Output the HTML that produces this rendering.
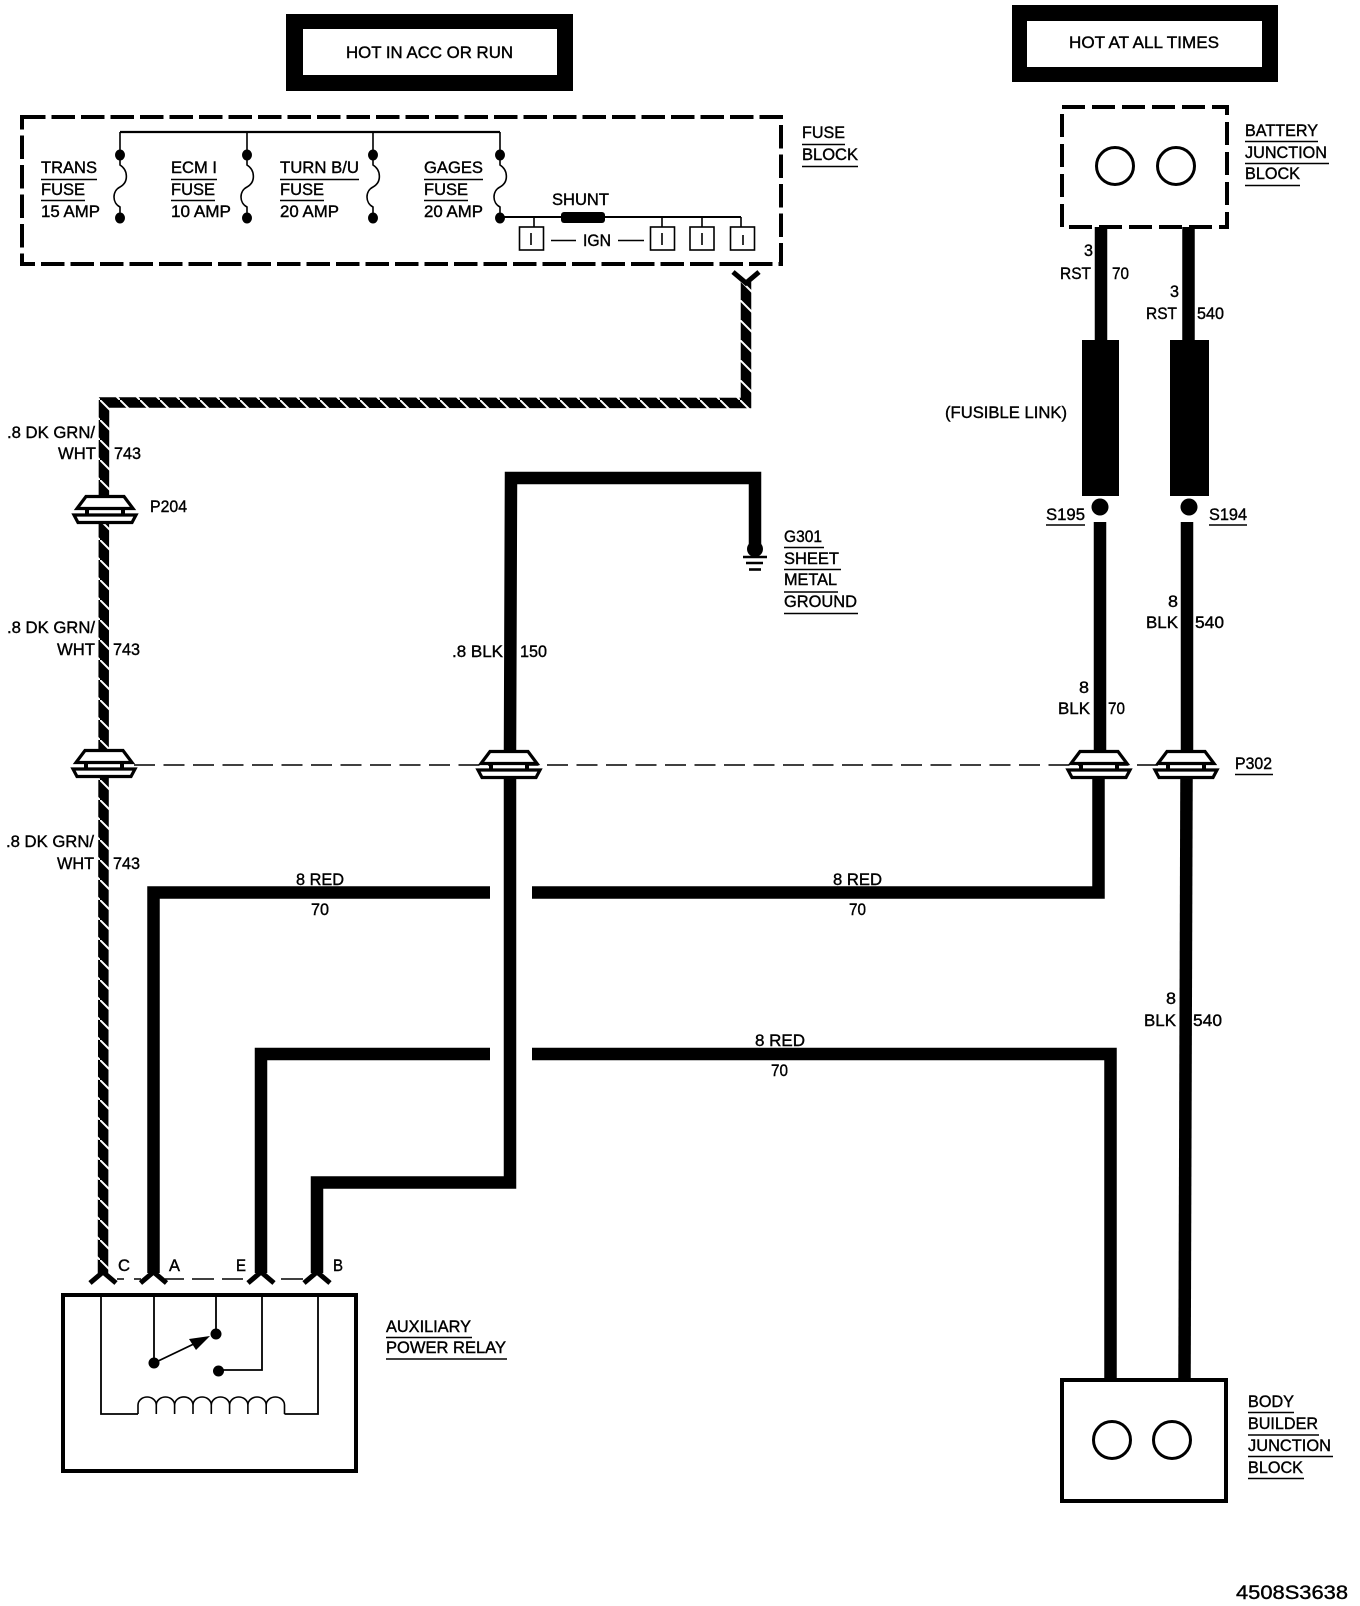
<!DOCTYPE html>
<html><head><meta charset="utf-8"><title>Auxiliary Power Relay Wiring</title>
<style>
html,body{margin:0;padding:0;background:#fff}
svg{display:block}
text{font-family:"Liberation Sans",sans-serif;font-size:17px;fill:#000;stroke:#000;stroke-width:.4}
.u{stroke:#000;stroke-width:1.5;fill:none}
.w{stroke:#000;stroke-width:12.5;fill:none;stroke-linejoin:miter}
</style></head><body>
<svg xmlns="http://www.w3.org/2000/svg" width="1360" height="1606" viewBox="0 0 1360 1606">
<defs>
<pattern id="h" patternUnits="userSpaceOnUse" width="20" height="20"><rect width="20" height="20" fill="#000"/><path d="M-2,-2L22,22" stroke="#fff" stroke-width="2"/></pattern>
<g id="c"><rect x="-16" y="12" width="32" height="8" fill="#fff"/><polygon points="-19,1.5 19,1.5 28,13.5 -28,13.5" fill="#fff" stroke="#000" stroke-width="3.2"/><path d="M-18,14V19M18,14V19" stroke="#000" stroke-width="4"/><polygon points="-31,20 31,20 27,27.5 -27,27.5" fill="#fff" stroke="#000" stroke-width="3.2"/></g>
<path id="f" d="M-13,11L0,0L13,11" fill="none" stroke="#000" stroke-width="5"/>
<path id="z" d="M0,155V165C8,170,9,182,0,187C-8,191,-8,203,0,207V218" fill="none" stroke="#000" stroke-width="1.6"/>
</defs>
<rect width="1360" height="1606" fill="#fff"/>

<!-- header boxes -->
<rect x="286" y="14" width="287" height="77" fill="#000"/><rect x="303" y="29" width="254" height="46" fill="#fff"/>
<text x="346" y="58" textLength="167" lengthAdjust="spacingAndGlyphs">HOT IN ACC OR RUN</text>
<rect x="1012" y="5" width="266" height="77" fill="#000"/><rect x="1027" y="21" width="235" height="46" fill="#fff"/>
<text x="1069" y="48" textLength="150" lengthAdjust="spacingAndGlyphs">HOT AT ALL TIMES</text>

<!-- fuse block -->
<rect x="22" y="117" width="759" height="147" fill="none" stroke="#000" stroke-width="4" stroke-dasharray="23.5 6"/>
<path d="M120,132H500" stroke="#000" stroke-width="2.2" fill="none"/>
<path d="M120,132V155M247,132V155M373,132V155M500,132V155" stroke="#000" stroke-width="1.6"/>
<use href="#z" x="120"/><use href="#z" x="247"/><use href="#z" x="373"/><use href="#z" x="500"/>
<g fill="#000"><ellipse cx="120" cy="155" rx="5" ry="5.5"/><ellipse cx="120" cy="218" rx="5" ry="5.5"/><ellipse cx="247" cy="155" rx="5" ry="5.5"/><ellipse cx="247" cy="218" rx="5" ry="5.5"/><ellipse cx="373" cy="155" rx="5" ry="5.5"/><ellipse cx="373" cy="218" rx="5" ry="5.5"/><ellipse cx="500" cy="155" rx="5" ry="5.5"/><ellipse cx="500" cy="218" rx="5" ry="5.5"/></g>

<text x="41" y="173" textLength="56" lengthAdjust="spacingAndGlyphs">TRANS</text><text x="41" y="195" textLength="44" lengthAdjust="spacingAndGlyphs">FUSE</text><text x="41" y="217" textLength="59" lengthAdjust="spacingAndGlyphs">15 AMP</text>
<text x="171" y="173" textLength="46" lengthAdjust="spacingAndGlyphs">ECM I</text><text x="171" y="195" textLength="44" lengthAdjust="spacingAndGlyphs">FUSE</text><text x="171" y="217" textLength="60" lengthAdjust="spacingAndGlyphs">10 AMP</text>
<text x="280" y="173" textLength="79" lengthAdjust="spacingAndGlyphs">TURN B/U</text><text x="280" y="195" textLength="44" lengthAdjust="spacingAndGlyphs">FUSE</text><text x="280" y="217" textLength="59" lengthAdjust="spacingAndGlyphs">20 AMP</text>
<text x="424" y="173" textLength="59" lengthAdjust="spacingAndGlyphs">GAGES</text><text x="424" y="195" textLength="44" lengthAdjust="spacingAndGlyphs">FUSE</text><text x="424" y="217" textLength="59" lengthAdjust="spacingAndGlyphs">20 AMP</text>
<path class="u" d="M41,179.5H97M41,200.5H85M171,179.5H217M171,200.5H215M280,179.5H359M280,200.5H324M424,179.5H483M424,200.5H468"/>

<text x="552" y="205" textLength="57" lengthAdjust="spacingAndGlyphs">SHUNT</text>
<path d="M500,217H741" stroke="#000" stroke-width="2" fill="none"/>
<rect x="561" y="212" width="44" height="11" rx="3" fill="#000"/>
<path d="M534,217V227M662,217V227M702,217V227M741,217V227" stroke="#000" stroke-width="1.6"/>
<g fill="#fff" stroke="#000" stroke-width="1.6"><rect x="519.5" y="227" width="24" height="23"/><rect x="650.5" y="227" width="24" height="23"/><rect x="690" y="227" width="24" height="23"/><rect x="730.5" y="227" width="24" height="23"/></g>
<path d="M531,233V245M662,233V245M702,233V245M743,235V245" stroke="#000" stroke-width="1.6"/>
<text x="583" y="246" textLength="28" lengthAdjust="spacingAndGlyphs">IGN</text>
<path d="M551,240.5H576M618,240.5H644" stroke="#000" stroke-width="1.6"/>
<text x="802" y="138" textLength="43" lengthAdjust="spacingAndGlyphs">FUSE</text><text x="802" y="160" textLength="56" lengthAdjust="spacingAndGlyphs">BLOCK</text>
<path class="u" d="M802,144.5H845M802,166.5H858"/>

<!-- battery junction block -->
<rect x="1062" y="107" width="165" height="120" fill="none" stroke="#000" stroke-width="4" stroke-dasharray="23 7"/>
<circle cx="1115" cy="166" r="18.5" fill="none" stroke="#000" stroke-width="3"/><circle cx="1176" cy="166" r="18.5" fill="none" stroke="#000" stroke-width="3"/>
<text x="1245" y="136" textLength="73" lengthAdjust="spacingAndGlyphs">BATTERY</text><text x="1245" y="158" textLength="82" lengthAdjust="spacingAndGlyphs">JUNCTION</text><text x="1245" y="179" textLength="55" lengthAdjust="spacingAndGlyphs">BLOCK</text>
<path class="u" d="M1245,141.5H1318M1245,163.5H1329M1245,185.5H1300"/>

<!-- fusible links -->
<path class="w" d="M1101,227V341M1188.5,227V341"/>
<rect x="1082" y="340" width="37" height="156" fill="#000"/><rect x="1170" y="340" width="39" height="156" fill="#000"/>
<circle cx="1100" cy="507" r="8.5" fill="#000"/><circle cx="1189" cy="507" r="8.5" fill="#000"/>
<text x="1084" y="256" textLength="9" lengthAdjust="spacingAndGlyphs">3</text><text x="1060" y="279" textLength="31" lengthAdjust="spacingAndGlyphs">RST</text><text x="1112" y="279" textLength="17" lengthAdjust="spacingAndGlyphs">70</text>
<text x="1170" y="297" textLength="9" lengthAdjust="spacingAndGlyphs">3</text><text x="1146" y="319" textLength="31" lengthAdjust="spacingAndGlyphs">RST</text><text x="1197" y="319" textLength="27" lengthAdjust="spacingAndGlyphs">540</text>
<text x="945" y="418" textLength="122" lengthAdjust="spacingAndGlyphs">(FUSIBLE LINK)</text>
<text x="1046" y="520" textLength="39" lengthAdjust="spacingAndGlyphs">S195</text><text x="1209" y="520" textLength="38" lengthAdjust="spacingAndGlyphs">S194</text>
<path class="u" d="M1046,525H1085M1209,525H1247"/>

<!-- passthrough dashed line -->
<path d="M134,765H1160" stroke="#000" stroke-width="1.6" stroke-dasharray="21 8.5" fill="none"/>

<!-- hatched wire -->
<polyline points="746,282 746,403 104,402.5 103,1273" fill="none" stroke="url(#h)" stroke-width="10.5"/>

<!-- solid wires -->
<path class="w" d="M755,550V478H511L510,750"/>
<path class="w" d="M510,778V1182.5H317V1273"/>
<path class="w" d="M1100,522V750"/>
<path class="w" d="M1098.5,778V892.5H532"/>
<path class="w" d="M490,892.5H153.5V1273"/>
<path class="w" d="M490,1054H261V1273"/>
<path class="w" d="M532,1054H1110.5V1379"/>
<path class="w" d="M1187,522V750"/>
<path class="w" d="M1186.5,778L1184.5,1379"/>

<!-- ground -->
<circle cx="755" cy="549" r="8" fill="#000"/>
<path d="M743,557H767" stroke="#000" stroke-width="2.6"/><path d="M746,563H763" stroke="#000" stroke-width="2.6"/><path d="M749,569.5H761" stroke="#000" stroke-width="2.6"/>
<text x="784" y="542" textLength="38" lengthAdjust="spacingAndGlyphs">G301</text><text x="784" y="564" textLength="55" lengthAdjust="spacingAndGlyphs">SHEET</text><text x="784" y="585" textLength="53" lengthAdjust="spacingAndGlyphs">METAL</text><text x="784" y="607" textLength="73" lengthAdjust="spacingAndGlyphs">GROUND</text>
<path class="u" d="M784,547.5H824M784,569.5H841M784,592H838M784,613.5H858"/>

<!-- connectors -->
<use href="#c" x="105" y="495"/>
<use href="#c" x="104" y="749"/>
<use href="#c" x="509" y="750"/>
<use href="#c" x="1099" y="750"/>
<use href="#c" x="1186" y="750"/>
<use href="#f" x="746" y="283" transform="rotate(180 746 283)"/>
<use href="#f" x="103" y="1272"/><use href="#f" x="153.5" y="1272"/><use href="#f" x="261" y="1272"/><use href="#f" x="317" y="1272"/>

<!-- wire labels -->
<text x="7" y="438" textLength="88" lengthAdjust="spacingAndGlyphs">.8 DK GRN/</text><text x="58" y="459" textLength="38" lengthAdjust="spacingAndGlyphs">WHT</text><text x="114" y="459" textLength="27" lengthAdjust="spacingAndGlyphs">743</text>
<text x="150" y="512" textLength="37" lengthAdjust="spacingAndGlyphs">P204</text>
<text x="7" y="633" textLength="88" lengthAdjust="spacingAndGlyphs">.8 DK GRN/</text><text x="57" y="655" textLength="38" lengthAdjust="spacingAndGlyphs">WHT</text><text x="113" y="655" textLength="27" lengthAdjust="spacingAndGlyphs">743</text>
<text x="6" y="847" textLength="88" lengthAdjust="spacingAndGlyphs">.8 DK GRN/</text><text x="57" y="869" textLength="37" lengthAdjust="spacingAndGlyphs">WHT</text><text x="113" y="869" textLength="27" lengthAdjust="spacingAndGlyphs">743</text>
<text x="452" y="657" textLength="51" lengthAdjust="spacingAndGlyphs">.8 BLK</text><text x="520" y="657" textLength="27" lengthAdjust="spacingAndGlyphs">150</text>
<text x="1168" y="607" textLength="10" lengthAdjust="spacingAndGlyphs">8</text><text x="1146" y="628" textLength="32" lengthAdjust="spacingAndGlyphs">BLK</text><text x="1195" y="628" textLength="29" lengthAdjust="spacingAndGlyphs">540</text>
<text x="1079" y="693" textLength="10" lengthAdjust="spacingAndGlyphs">8</text><text x="1058" y="714" textLength="32" lengthAdjust="spacingAndGlyphs">BLK</text><text x="1108" y="714" textLength="17" lengthAdjust="spacingAndGlyphs">70</text>
<text x="1166" y="1004" textLength="10" lengthAdjust="spacingAndGlyphs">8</text><text x="1144" y="1026" textLength="32" lengthAdjust="spacingAndGlyphs">BLK</text><text x="1193" y="1026" textLength="29" lengthAdjust="spacingAndGlyphs">540</text>
<text x="1235" y="769" textLength="37" lengthAdjust="spacingAndGlyphs">P302</text><path class="u" d="M1235,774.5H1273"/>
<text x="296" y="885" textLength="48" lengthAdjust="spacingAndGlyphs">8 RED</text><text x="311" y="915" textLength="18" lengthAdjust="spacingAndGlyphs">70</text>
<text x="833" y="885" textLength="49" lengthAdjust="spacingAndGlyphs">8 RED</text><text x="849" y="915" textLength="17" lengthAdjust="spacingAndGlyphs">70</text>
<text x="755" y="1046" textLength="50" lengthAdjust="spacingAndGlyphs">8 RED</text><text x="771" y="1076" textLength="17" lengthAdjust="spacingAndGlyphs">70</text>

<!-- relay -->
<text x="118" y="1271" textLength="12" lengthAdjust="spacingAndGlyphs">C</text><text x="169" y="1271" textLength="11" lengthAdjust="spacingAndGlyphs">A</text><text x="236" y="1271" textLength="10" lengthAdjust="spacingAndGlyphs">E</text><text x="333" y="1271" textLength="10" lengthAdjust="spacingAndGlyphs">B</text>
<path d="M117,1279H124M134,1279H141M165,1279H184M192,1279H214M222,1279H243M281,1279H303" stroke="#000" stroke-width="1.6"/>
<rect x="63" y="1295" width="293" height="176" fill="none" stroke="#000" stroke-width="4"/>
<path d="M101,1296V1414H138M284.5,1414H318V1296M154,1296V1363M216,1296V1334M219,1370H262V1296" fill="none" stroke="#000" stroke-width="1.8"/>
<path d="M138,1414V1405A9.15,8,0,0,1,156.3,1405V1414M156.3,1405A9.15,8,0,0,1,174.6,1405V1414M174.6,1405A9.15,8,0,0,1,193,1405V1414M193,1405A9.15,8,0,0,1,211.3,1405V1414M211.3,1405A9.15,8,0,0,1,229.6,1405V1414M229.6,1405A9.15,8,0,0,1,247.9,1405V1414M247.9,1405A9.15,8,0,0,1,266.2,1405V1414M266.2,1405A9.15,8,0,0,1,284.5,1405V1414" fill="none" stroke="#000" stroke-width="1.6"/>
<circle cx="154" cy="1363" r="5.5" fill="#000"/><circle cx="216" cy="1334" r="5.5" fill="#000"/><circle cx="218.5" cy="1371" r="5.5" fill="#000"/>
<path d="M154,1363L200,1341" stroke="#000" stroke-width="1.8"/><polygon points="210,1336 189,1339 196,1350" fill="#000"/>
<text x="386" y="1332" textLength="85" lengthAdjust="spacingAndGlyphs">AUXILIARY</text><text x="386" y="1353" textLength="120" lengthAdjust="spacingAndGlyphs">POWER RELAY</text>
<path class="u" d="M386,1337.5H472M386,1359H507"/>

<!-- body builder junction block -->
<rect x="1062" y="1380" width="164" height="121" fill="#fff" stroke="#000" stroke-width="4"/>
<circle cx="1112" cy="1440" r="18.5" fill="none" stroke="#000" stroke-width="3"/><circle cx="1172" cy="1440" r="18.5" fill="none" stroke="#000" stroke-width="3"/>
<text x="1248" y="1407" textLength="46" lengthAdjust="spacingAndGlyphs">BODY</text><text x="1248" y="1429" textLength="70" lengthAdjust="spacingAndGlyphs">BUILDER</text><text x="1248" y="1451" textLength="83" lengthAdjust="spacingAndGlyphs">JUNCTION</text><text x="1248" y="1473" textLength="55" lengthAdjust="spacingAndGlyphs">BLOCK</text>
<path class="u" d="M1248,1412.5H1294M1248,1435H1319M1248,1456.5H1333M1248,1478.5H1304"/>
<text x="1236" y="1599" textLength="112" lengthAdjust="spacingAndGlyphs" style="font-size:19px">4508S3638</text>
</svg>
</body></html>
